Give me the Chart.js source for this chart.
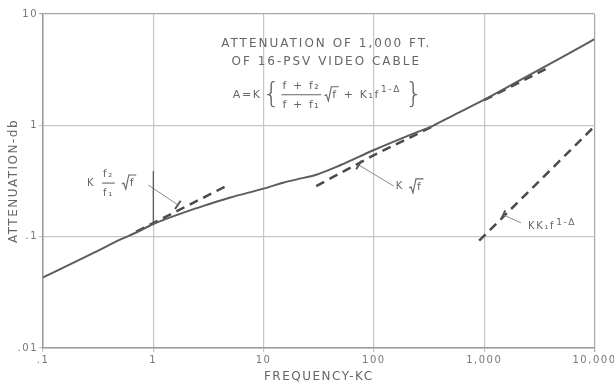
<!DOCTYPE html>
<html><head><meta charset="utf-8">
<script src="https://cdn.jsdelivr.net/npm/chart.js@4.4.1/dist/chart.umd.min.js"></script>
<style>html,body{margin:0;padding:0;background:#fff}#wrap{width:614px;height:386px;position:relative}</style>
</head><body><div id="wrap"><canvas id="c" width="614" height="386"></canvas></div>
<script>
// ---- data ----
const freqKc  = [0.1, 0.2, 0.3, 0.5, 0.7, 1, 2, 3, 5, 10, 15, 20, 30, 50, 100, 200, 350, 500, 1000, 2000, 5000, 10000];
const attenDb = [0.043, 0.060, 0.073, 0.094, 0.109, 0.13, 0.168, 0.192, 0.225, 0.27, 0.305, 0.327, 0.36, 0.44, 0.6, 0.8, 1.0, 1.2, 1.7, 2.47, 4.06, 5.95];
const lowAsymFreq = [0.7, 4.5];          // K f2/f1 sqrt(f)
const lowAsymDb   = [0.111, 0.282];
const sqrtFreq = [30, 100, 350, 600, 1000, 3600];   // K sqrt(f)
const sqrtDb   = [0.285, 0.54, 0.99, null, 1.68, 3.2];
const kk1Freq = [900, 10000];            // K K1 f^(1-Δ)
const kk1Db   = [0.092, 0.98];
const xTickValues = [0.1, 1, 10, 100, 1000, 10000];
const xTickLabels = ['.1', '1', '10', '100', '1,000', '10,000'];
const yTickValues = [0.01, 0.1, 1, 10];
const yTickLabels = ['.01', '.1', '1', '10'];
const titleLines = ['ATTENUATION OF 1,000 FT.', 'OF 16-PSV VIDEO CABLE'];
const xTitle = 'FREQUENCY-KC';
const yTitle = 'ATTENUATION-db';

const INK = '#5c5c5c';
const TXT = '#666666';
const FONT = 'DejaVu Sans';

function pts(xs, ys){ return xs.map((x,i)=>({x:x, y:ys[i]})); }

const annot = {
  id: 'annot',
  beforeDraw(chart){ chart.ctx.letterSpacing = '1.5px'; },
  afterDatasetsDraw(chart){
    const ctx = chart.ctx, sx = chart.scales.x, sy = chart.scales.y;
    const P = (f,a)=>[sx.getPixelForValue(f), sy.getPixelForValue(a)];
    ctx.save();
    ctx.fillStyle = TXT; ctx.strokeStyle = TXT;
    ctx.textBaseline = 'middle';
    ctx.letterSpacing = '2px';
    // title
    ctx.font = '12px "' + FONT + '"';
    ctx.textAlign = 'center';
    let p = P(37, 5.38); ctx.fillText(titleLines[0], p[0], p[1]);
    p = P(37, 3.72); ctx.fillText(titleLines[1], p[0], p[1]);
    ctx.textAlign = 'left';
    ctx.letterSpacing = '1.6px';

    function txt(t, x, y, size, w){ ctx.font = (w||'') + ' ' + (size||10) + 'px "' + FONT + '"'; ctx.fillText(t, x, y); return x + ctx.measureText(t).width; }
    function radical(x, y, size){
      ctx.font = size + 'px "' + FONT + '"';
      const w = ctx.measureText('f').width;
      ctx.lineWidth = 1.1;
      ctx.beginPath();
      ctx.moveTo(x, y+1); ctx.lineTo(x+2, y); ctx.lineTo(x+4, y+6); ctx.lineTo(x+7, y-8); ctx.lineTo(x+9+w, y-8);
      ctx.stroke();
      ctx.fillText('f', x+8, y);
      return x + 9 + w + 2;
    }
    function frac(top, bot, x, y, size){
      ctx.font = size + 'px "' + FONT + '"';
      const w = Math.max(ctx.measureText(top).width, ctx.measureText(bot).width);
      ctx.textAlign = 'center';
      ctx.fillText(top, x + w/2, y - 9);
      ctx.fillText(bot, x + w/2, y + 10);
      ctx.textAlign = 'left';
      ctx.lineWidth = 1.1;
      ctx.beginPath(); ctx.moveTo(x-1, y); ctx.lineTo(x + w + 1, y); ctx.stroke();
      return x + w + 3;
    }
    // formula
    p = P(5.26, 1.88);
    let x = p[0], y = p[1];
    x = txt('A=K', x, y, 11);
    ctx.letterSpacing = '0px';
    x = txt('{', x + 1, y + 1, 28, '200') + 2;
    ctx.letterSpacing = '1.6px';
    x = frac('f + f₂', 'f + f₁', x, y, 11) + 1;
    x = radical(x, y, 11) + 3;
    x = txt('+ K₁f', x, y, 11);
    x = txt('1-Δ', x + 1, y - 5, 9) + 4;
    ctx.letterSpacing = '0px';
    txt('}', x, y + 1, 28, '200');
    ctx.letterSpacing = '1.6px';

    // label 1 : K f2/f1 sqrt f
    p = P(0.25, 0.303);
    x = txt('K', p[0], p[1], 10) + 8;
    x = frac('f₂', 'f₁', x, p[1], 10) + 5;
    radical(x, p[1], 11);
    // label 2 : K sqrt f
    p = P(158, 0.28);
    x = txt('K', p[0], p[1], 10) + 5;
    radical(x, p[1], 11);
    // label 3 : K K1 f^(1-Δ)
    p = P(2500, 0.123);
    x = txt('KK₁f', p[0], p[1], 10);
    txt('1-Δ', x + 1, p[1] - 4, 9);

    // leader lines with T ends
    function leader(f1, a1, f2, a2){
      const s = P(f1, a1), e = P(f2, a2);
      ctx.strokeStyle = '#8a8a8a'; ctx.lineWidth = 1;
      ctx.beginPath(); ctx.moveTo(s[0], s[1]); ctx.lineTo(e[0], e[1]); ctx.stroke();
      const dx = e[0]-s[0], dy = e[1]-s[1], L = Math.hypot(dx, dy);
      const nx = -dy/L, ny = dx/L;
      ctx.strokeStyle = '#555'; ctx.lineWidth = 2;
      ctx.beginPath(); ctx.moveTo(e[0]-nx*5, e[1]-ny*5); ctx.lineTo(e[0]+nx*5, e[1]+ny*5); ctx.stroke();
    }
    leader(0.9, 0.291, 1.67, 0.193);
    leader(151, 0.285, 73, 0.44);
    leader(2160, 0.133, 1486, 0.157);
    // dark ink stroke along the 1 kc line
    let a = P(1, 0.388), b = P(1, 0.133);
    ctx.strokeStyle = '#555'; ctx.lineWidth = 1.2;
    ctx.beginPath(); ctx.moveTo(a[0], a[1]); ctx.lineTo(b[0], b[1]); ctx.stroke();
    ctx.restore();
  }
};

const gridCol = (edgeVals) => (c) => (c.tick && edgeVals.includes(c.tick.value)) ? '#a8a8a8' : '#c6c6c6';

new Chart(document.getElementById('c'), {
  type: 'line',
  data: {
    datasets: [
      { data: pts(freqKc, attenDb), borderColor: INK, borderWidth: 2, pointRadius: 0, cubicInterpolationMode: 'monotone' },
      { data: pts(lowAsymFreq, lowAsymDb), borderColor: '#4a4a4a', borderWidth: 2.5, borderDash: [9, 6], pointRadius: 0 },
      { data: pts(sqrtFreq, sqrtDb), borderColor: '#4a4a4a', borderWidth: 2.5, borderDash: [9, 6], pointRadius: 0, spanGaps: false },
      { data: pts(kk1Freq, kk1Db), borderColor: '#4a4a4a', borderWidth: 2.5, borderDash: [9, 6], pointRadius: 0 }
    ]
  },
  options: {
    responsive: false, devicePixelRatio: 1, animation: false,
    layout: { padding: { top: 14, right: 19, left: 0, bottom: 0 } },
    plugins: { legend: { display: false }, tooltip: { enabled: false } },
    scales: {
      x: {
        type: 'logarithmic', min: 0.1, max: 10000,
        afterBuildTicks: s => { s.ticks = xTickValues.map(v => ({ value: v })); },
        afterFit: s => { s.height = 38; },
        ticks: { callback: (v, i) => xTickLabels[i], color: '#777', font: { family: FONT, size: 10 }, maxRotation: 0, autoSkip: false, padding: 2 },
        grid: { color: gridCol([10000]), lineWidth: 1.2, tickLength: 4 },
        border: { color: '#999', width: 1.5 },
        title: { display: true, text: xTitle, color: TXT, font: { family: FONT, size: 12 }, padding: { top: 0, bottom: 2 } }
      },
      y: {
        type: 'logarithmic', min: 0.01, max: 10,
        afterBuildTicks: s => { s.ticks = yTickValues.map(v => ({ value: v })); },
        afterFit: s => { s.width = 43; },
        ticks: { callback: (v, i) => yTickLabels[i], color: '#777', font: { family: FONT, size: 10 }, autoSkip: false, padding: 1 },
        grid: { color: gridCol([10]), lineWidth: 1.2, tickLength: 4 },
        border: { color: '#999', width: 1.5 },
        title: { display: true, text: yTitle, color: TXT, font: { family: FONT, size: 12 }, padding: { top: 7, bottom: 2 } }
      }
    }
  },
  plugins: [annot]
});
</script></body></html>
